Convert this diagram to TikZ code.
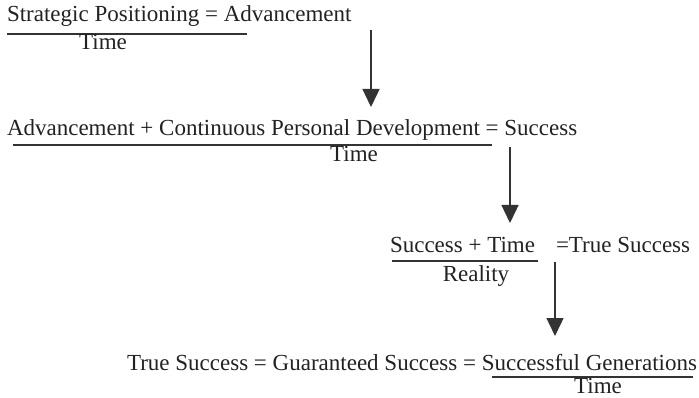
\documentclass[tikz,border=0pt]{standalone}
\usepackage{fontspec}
\setmainfont{Liberation Serif}
\usetikzlibrary{arrows.meta}
\definecolor{ink}{HTML}{222222}
\definecolor{rule}{HTML}{333333}
\tikzset{
  txt/.style={inner sep=0pt, outer sep=0pt, text=ink, font=\fontsize{23}{27}\selectfont, anchor=base west},
  ctxt/.style={txt, anchor=base},
  bar/.style={draw=rule, line width=2.2pt},
  flow/.style={draw=rule, line width=1.4pt, -{Triangle[width=17pt,length=18pt]}}
}
\begin{document}
\begin{tikzpicture}[x=1pt,y=-1pt]
\useasboundingbox (0,0) rectangle (699,398);
% line 1
\node[txt] (l1) at (7,22) {Strategic Positioning = Advancement};
\coordinate (u1a) at (7,34); \coordinate (u1b) at (247,34);
\draw[bar] (u1a) -- (u1b);
\node[ctxt] (t1) at (103,50) {Time};
% arrow 1
\coordinate (a1s) at (371,30); \coordinate (a1e) at (371,107);
\draw[flow] (a1s) -- (a1e);
% line 2
\node[txt] (l2) at (7,136) {Advancement + Continuous Personal Development = Success};
\coordinate (u2a) at (13,145); \coordinate (u2b) at (492,145);
\draw[bar] (u2a) -- (u2b);
\node[ctxt] (t2) at (354,162) {Time};
% arrow 2
\coordinate (a2s) at (510,147); \coordinate (a2e) at (510,223);
\draw[flow] (a2s) -- (a2e);
% line 3
\node[txt] (l3n) at (390,253) {Success + Time};
\node[txt] (l3r) at (556,253) {=True Success};
\coordinate (u3a) at (392,261); \coordinate (u3b) at (538,261);
\draw[bar] (u3a) -- (u3b);
\node[ctxt] (t3) at (476,281) {Reality};
% arrow 3
\coordinate (a3s) at (555,262); \coordinate (a3e) at (555,336);
\draw[flow] (a3s) -- (a3e);
% line 4
\node[txt, anchor=base east] (l4) at (697,370) {True Success = Guaranteed Success = Successful Generations};
\coordinate (u4a) at (492,377); \coordinate (u4b) at (693,377);
\draw[bar] (u4a) -- (u4b);
\node[ctxt] (t4) at (598,393) {Time};
\end{tikzpicture}
\end{document}
